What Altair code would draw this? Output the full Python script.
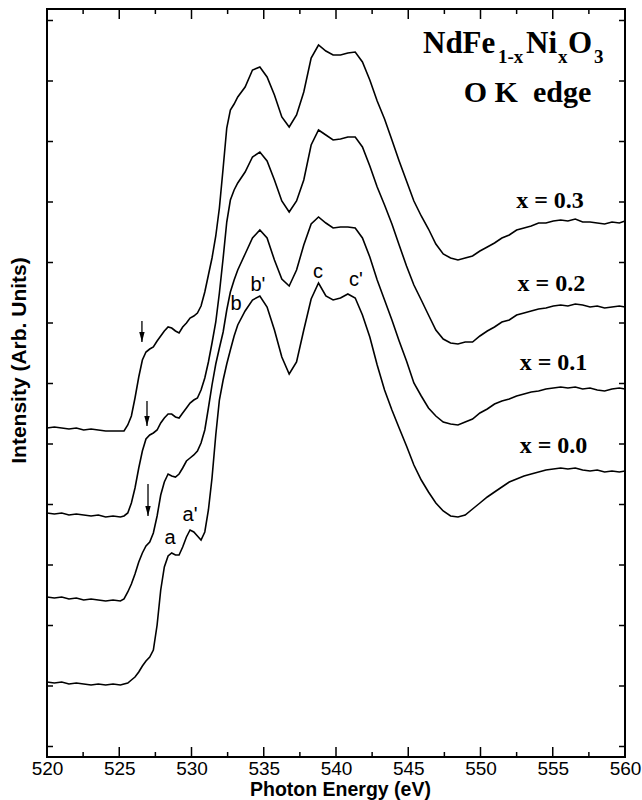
import altair as alt
import pandas as pd

# ---------------------------------------------------------------------------
# O K-edge absorption spectra of NdFe(1-x)Ni(x)O3, stacked (arb. units)
# ---------------------------------------------------------------------------
energy = [
    520.00, 520.51, 521.02, 521.52, 522.03, 522.54, 523.05, 523.55, 524.06, 524.57,
    525.08, 525.33, 525.59, 525.84, 526.09, 526.35, 526.60, 526.85, 527.11, 527.36,
    527.62, 527.87, 528.12, 528.38, 528.63, 528.89, 529.14, 529.39, 529.65, 529.90,
    530.16, 530.41, 530.66, 530.92, 531.17, 531.42, 531.68, 531.93, 532.19, 532.44,
    532.69, 532.95, 533.20,
    533.71, 534.22, 534.73, 535.23, 535.74, 536.25, 536.76, 537.27, 537.77, 538.28,
    538.79, 539.30, 539.80, 540.31, 540.82, 541.33, 541.83, 542.34, 542.85, 543.36,
    543.87, 544.37, 544.88, 545.39, 545.90, 546.40, 546.91, 547.42, 547.93, 548.44,
    548.94, 549.45, 549.96, 550.47, 550.97, 551.48, 551.99, 552.50, 553.01, 553.51,
    554.02, 554.53, 555.04, 555.55, 556.05, 556.56, 557.07, 557.58, 558.08, 558.59,
    559.10, 559.61, 560.00,
]

x03 = [
    3.29, 3.30, 3.29, 3.28, 3.29, 3.27, 3.28, 3.27, 3.26, 3.26,
    3.26, 3.26, 3.32, 3.41, 3.59, 3.80, 3.97, 4.05, 4.08, 4.10,
    4.16, 4.21, 4.26, 4.30, 4.29, 4.26, 4.24, 4.30, 4.34, 4.39,
    4.41, 4.44, 4.51, 4.65, 4.82, 4.99, 5.21, 5.49, 5.89, 6.29,
    6.47, 6.53, 6.60,
    6.70, 6.87, 6.90, 6.80, 6.62, 6.40, 6.30, 6.42, 6.65, 6.99,
    7.12, 7.06, 7.02, 7.02, 7.04, 7.05, 6.95, 6.77, 6.56, 6.38,
    6.17, 5.96, 5.76, 5.56, 5.41, 5.28, 5.13, 5.03, 4.99, 4.97,
    4.99, 5.01, 5.06, 5.10, 5.14, 5.19, 5.22, 5.27, 5.29, 5.31,
    5.34, 5.34, 5.36, 5.37, 5.36, 5.38, 5.35, 5.35, 5.34, 5.33,
    5.35, 5.34, 5.36,
]

x02 = [
    2.44, 2.43, 2.44, 2.42, 2.43, 2.42, 2.41, 2.42, 2.40, 2.41,
    2.40, 2.41, 2.44, 2.54, 2.69, 2.89, 3.06, 3.18, 3.22, 3.24,
    3.27, 3.34, 3.39, 3.43, 3.43, 3.40, 3.39, 3.44, 3.49, 3.54,
    3.57, 3.59, 3.67, 3.79, 3.95, 4.14, 4.35, 4.64, 4.99, 5.35,
    5.57, 5.67, 5.74,
    5.85, 6.00, 6.05, 5.96, 5.77, 5.56, 5.45, 5.56, 5.77, 6.12,
    6.27, 6.22, 6.17, 6.18, 6.20, 6.20, 6.10, 5.91, 5.70, 5.52,
    5.33, 5.12, 4.91, 4.72, 4.57, 4.42, 4.27, 4.18, 4.14, 4.13,
    4.15, 4.15, 4.21, 4.26, 4.30, 4.35, 4.37, 4.42, 4.44, 4.46,
    4.48, 4.49, 4.51, 4.52, 4.51, 4.53, 4.52, 4.50, 4.51, 4.49,
    4.50, 4.51, 4.50,
]

x01 = [
    1.60, 1.59, 1.60, 1.58, 1.59, 1.57, 1.58, 1.57, 1.56, 1.57,
    1.56, 1.58, 1.65, 1.73, 1.83, 1.95, 2.04, 2.11, 2.15, 2.24,
    2.41, 2.62, 2.75, 2.83, 2.81, 2.80, 2.83, 2.89, 2.96, 2.99,
    3.02, 3.06, 3.14, 3.27, 3.49, 3.72, 3.93, 4.09, 4.25, 4.47,
    4.65, 4.77, 4.87,
    5.03, 5.19, 5.27, 5.19, 4.97, 4.78, 4.71, 4.87, 5.12, 5.33,
    5.40, 5.34, 5.29, 5.30, 5.30, 5.29, 5.19, 5.00, 4.77, 4.57,
    4.37, 4.16, 3.96, 3.74, 3.61, 3.49, 3.41, 3.35, 3.33, 3.32,
    3.35, 3.38, 3.44, 3.48, 3.53, 3.56, 3.58, 3.61, 3.63, 3.65,
    3.66, 3.68, 3.69, 3.70, 3.69, 3.70, 3.68, 3.69, 3.67, 3.66,
    3.68, 3.69, 3.68,
]

x00 = [
    0.75, 0.74, 0.75, 0.73, 0.74, 0.73, 0.72, 0.73, 0.72, 0.73,
    0.72, 0.73, 0.74, 0.77, 0.80, 0.85, 0.91, 0.96, 1.00, 1.07,
    1.32, 1.67, 1.90, 2.01, 2.04, 2.02, 2.02, 2.10, 2.20, 2.27,
    2.25, 2.21, 2.17, 2.25, 2.47, 2.79, 3.22, 3.57, 3.77, 3.93,
    4.07, 4.21, 4.32,
    4.46, 4.57, 4.61, 4.50, 4.27, 4.00, 3.83, 3.95, 4.27, 4.58,
    4.74, 4.61, 4.57, 4.59, 4.63, 4.59, 4.42, 4.20, 3.92, 3.67,
    3.47, 3.29, 3.11, 2.92, 2.77, 2.65, 2.54, 2.46, 2.41, 2.40,
    2.42, 2.48, 2.54, 2.60, 2.65, 2.70, 2.75, 2.78, 2.81, 2.83,
    2.85, 2.87, 2.88, 2.89, 2.88, 2.89, 2.87, 2.86, 2.87, 2.85,
    2.86, 2.85, 2.86,
]

sample_names = ["x = 0.0", "x = 0.1", "x = 0.2", "x = 0.3"]

# tick positions
x_major = [520, 525, 530, 535, 540, 545, 550, 555, 560]
x_minor = [522.5, 527.5, 532.5, 537.5, 542.5, 547.5, 552.5, 557.5]
y_ticks = [0.105, 0.71, 1.315, 1.92, 2.525, 3.13, 3.735, 4.34, 4.945,
           5.55, 6.155, 6.76, 7.365]

# sample labels on the right
sample_label_e = [555.05, 555.05, 554.91, 554.81]
sample_label_i = [3.04, 3.87, 4.66, 5.49]

# feature letters
feature_text = ["a", "a'", "b", "b'", "c", "c'"]
feature_e = [528.51, 529.90, 533.08, 534.60, 538.75, 541.38]
feature_i = [2.19, 2.42, 4.53, 4.72, 4.85, 4.77]

# pre-edge arrows: energy, tail, tip
arrow_e = [526.57, 526.92, 526.99]
arrow_tail = [4.36, 3.56, 2.73]
arrow_tip = [4.15, 3.31, 2.41]

# formula pieces: main text and subscripts
formula_main = ["NdFe", "Ni", "O"]
formula_main_e = [546.02, 553.15, 556.06]
formula_sub = ["1-x", "x", "3"]
formula_sub_e = [551.21, 555.36, 557.85]
formula_main_i = 7.04
formula_sub_i = 6.94
edge_text = "O K\u00a0 edge"
edge_e = 553.25
edge_i = 6.55

SANS = "Liberation Sans"
SERIF = "Liberation Serif"

# ---------------------------------------------------------------------------
rows = []
for name, vals in zip(sample_names, [x00, x01, x02, x03]):
    for e, v in zip(energy, vals):
        rows.append({"energy": e, "intensity": v, "sample": name})
spectra = pd.DataFrame(rows)

x_scale = alt.Scale(domain=[520, 560], nice=False, zero=False)
y_scale = alt.Scale(domain=[0, 7.48], nice=False, zero=False)

x_axis = alt.Axis(
    values=x_major, format="d", labelFont=SANS, labelFontSize=19,
    labelColor="black", labelPadding=17, labelBaseline="alphabetic",
    labelFlush=False, labelOverlap=False, ticks=False, tickSize=0,
    domain=False, grid=False,
    title="Photon Energy (eV)", titleFont=SANS, titleFontSize=19.5,
    titleFontWeight="bold", titleColor="black", titleX=293, titleY=38,
    titleAlign="center", titleBaseline="alphabetic",
)
y_axis = alt.Axis(
    labels=False, ticks=False, domain=False, grid=False,
    title="Intensity (Arb. Units)", titleFont=SANS, titleFontSize=21,
    titleFontWeight="bold", titleColor="black", titleAngle=270,
    titleX=-22, titleY=351, titleAlign="center", titleBaseline="alphabetic",
)

X = alt.X("energy:Q", scale=x_scale, axis=x_axis)
Y = alt.Y("intensity:Q", scale=y_scale, axis=y_axis)
Y2 = alt.Y2("intensity2:Q")

W, H = 578, 748

curves = alt.Chart(spectra).mark_line(color="black", strokeWidth=1.6).encode(
    x=X, y=Y, detail="sample:N"
)

major_df = pd.DataFrame({"energy": x_major})
minor_df = pd.DataFrame({"energy": x_minor})
yt_df = pd.DataFrame({"intensity": y_ticks})

tick_style = dict(color="black", strokeWidth=1.5)
ticks = [
    alt.Chart(major_df).mark_rule(**tick_style).encode(x=X, y=alt.value(H), y2=alt.value(H - 10)),
    alt.Chart(major_df).mark_rule(**tick_style).encode(x=X, y=alt.value(0), y2=alt.value(10)),
    alt.Chart(minor_df).mark_rule(**tick_style).encode(x=X, y=alt.value(H), y2=alt.value(H - 5)),
    alt.Chart(minor_df).mark_rule(**tick_style).encode(x=X, y=alt.value(0), y2=alt.value(5)),
    alt.Chart(yt_df).mark_rule(**tick_style).encode(y=Y, x=alt.value(0), x2=alt.value(6)),
    alt.Chart(yt_df).mark_rule(**tick_style).encode(y=Y, x=alt.value(W), x2=alt.value(W - 6)),
]

sample_df = pd.DataFrame({"energy": sample_label_e, "intensity": sample_label_i,
                          "label": sample_names})
sample_text = alt.Chart(sample_df).mark_text(
    font=SERIF, fontSize=24, fontWeight="bold", align="center",
    baseline="alphabetic", color="black"
).encode(x=X, y=Y, text="label:N")

feature_df = pd.DataFrame({"energy": feature_e, "intensity": feature_i,
                           "label": feature_text})
feature_labels = alt.Chart(feature_df).mark_text(
    font=SANS, fontSize=20, align="center", baseline="middle", color="black"
).encode(x=X, y=Y, text="label:N")

arrow_df = pd.DataFrame({"energy": arrow_e, "intensity": arrow_tail,
                         "intensity2": arrow_tip, "tip": arrow_tip})
arrow_shafts = alt.Chart(arrow_df).mark_rule(color="black", strokeWidth=1.3).encode(
    x=X, y=Y, y2=Y2
)
arrow_heads = alt.Chart(arrow_df).mark_point(
    shape="M0,0L-0.6,-2.2L0.6,-2.2Z", filled=True, size=81, color="black",
    opacity=1, strokeWidth=0
).encode(x=X, y=alt.Y("tip:Q", scale=y_scale, axis=y_axis))

main_df = pd.DataFrame({"energy": formula_main_e,
                        "intensity": [formula_main_i] * len(formula_main),
                        "label": formula_main})
sub_df = pd.DataFrame({"energy": formula_sub_e,
                       "intensity": [formula_sub_i] * len(formula_sub),
                       "label": formula_sub})
edge_df = pd.DataFrame({"energy": [edge_e], "intensity": [edge_i], "label": [edge_text]})

formula_main_text = alt.Chart(main_df).mark_text(
    font=SERIF, fontSize=31, fontWeight="bold", align="left",
    baseline="alphabetic", color="black"
).encode(x=X, y=Y, text="label:N")
formula_sub_text = alt.Chart(sub_df).mark_text(
    font=SERIF, fontSize=19, fontWeight="bold", align="left",
    baseline="alphabetic", color="black"
).encode(x=X, y=Y, text="label:N")
edge_label = alt.Chart(edge_df).mark_text(
    font=SERIF, fontSize=30, fontWeight="bold", align="center",
    baseline="alphabetic", color="black"
).encode(x=X, y=Y, text="label:N")

chart = alt.layer(
    curves, *ticks, sample_text, feature_labels, arrow_shafts, arrow_heads,
    formula_main_text, formula_sub_text, edge_label
).properties(
    width=W, height=H,
    background="white",
    autosize=alt.AutoSizeParams(type="none"),
    padding={"left": 47, "top": 9, "right": 17, "bottom": 43},
).configure_view(
    stroke="black", strokeWidth=2
)

chart.save("out.html", embed_options={"renderer": "svg", "actions": False})
